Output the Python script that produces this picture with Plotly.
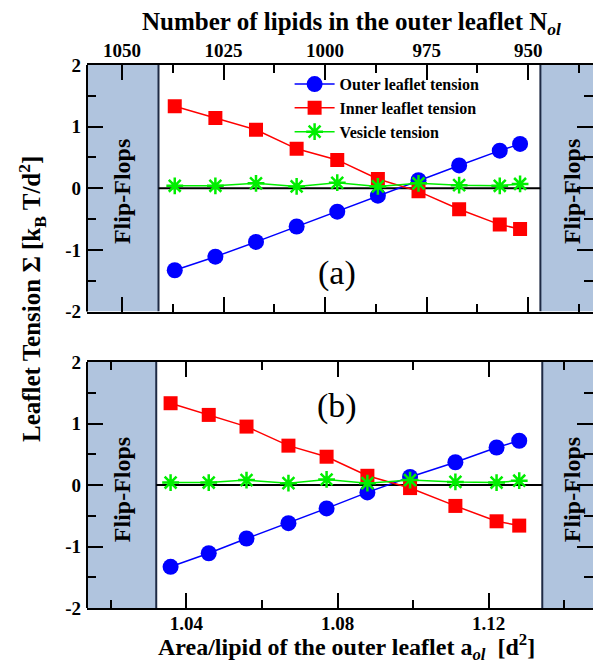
import plotly.graph_objects as go

# ---------------- data ----------------
N_ol = [1037, 1027, 1017, 1007, 997, 987, 977, 967, 957, 952]
area_ol = [1.0358, 1.0459, 1.0559, 1.0670, 1.0771, 1.0879, 1.0992, 1.1112, 1.1221, 1.1281]
outer_tension = [-1.33, -1.11, -0.87, -0.62, -0.38, -0.12, 0.13, 0.37, 0.61, 0.72]
inner_tension = [1.33, 1.14, 0.95, 0.64, 0.46, 0.15, -0.05, -0.34, -0.59, -0.66]
vesicle_tension = [0.04, 0.04, 0.08, 0.03, 0.09, 0.03, 0.08, 0.05, 0.04, 0.07]

flip_N = [1041.0, 947.0]        # flip-flop limits in N_ol
flip_a = [1.0320, 1.1342]       # flip-flop limits in a_ol
range_N = [1058.6, 934.05]
range_a = [1.01367, 1.14763]
y_ticks = [-2, -1, 0, 1, 2]
y_ticklabels = ["-2", "-1", "0", "1", "2"]

SERIF = "Liberation Serif"
SHADE = "#b0c4de"
EDGE = "#1e2a44"

series = [
    ("Outer leaflet tension", outer_tension, "#0000ff", dict(symbol="circle", size=16)),
    ("Inner leaflet tension", inner_tension, "#ff0000", dict(symbol="square", size=14)),
    ("Vesicle tension", vesicle_tension, "#00ee00",
     dict(symbol="asterisk-open", size=14, line=dict(width=2.5, color="#00ee00"))),
]

fig = go.Figure()
for name, vals, col, mk in series:
    m = dict(color=col, **mk)
    fig.add_trace(go.Scatter(x=N_ol, y=vals, mode="lines+markers", name=name,
                             line=dict(color=col, width=1.5), marker=m,
                             xaxis="x", yaxis="y", showlegend=True))
    fig.add_trace(go.Scatter(x=area_ol, y=vals, mode="lines+markers", name=name,
                             line=dict(color=col, width=1.5), marker=m,
                             xaxis="x2", yaxis="y2", showlegend=False))

tickfont = dict(family=SERIF, size=19, color="black", weight="bold")
yax = dict(range=[-2, 2], tickmode="array", tickvals=y_ticks, ticktext=y_ticklabels,
           ticks="inside", ticklen=16, tickwidth=1.5,
           tickcolor="black", mirror="ticks", showline=False, showgrid=False,
           zeroline=False, tickfont=tickfont, ticklabelstandoff=5,
           minor=dict(dtick=0.5, tick0=0, ticks="inside", ticklen=9, tickwidth=1.5,
                      tickcolor="black"))

fig.update_layout(
    width=585, height=656,
    margin=dict(l=79, r=0, t=57, b=56),
    plot_bgcolor="white", paper_bgcolor="white",
    showlegend=True,
    legend=dict(x=0.4004, y=0.996, xanchor="left", yanchor="top",
                bgcolor="rgba(0,0,0,0)", itemwidth=40, tracegroupgap=0,
                font=dict(family=SERIF, size=16, color="black", weight="bold")),
    xaxis=dict(domain=[0, 1], range=range_N, side="top", anchor="y",
               dtick=25, tick0=0, ticks="inside", ticklen=15, tickwidth=1.5,
               tickcolor="black", showline=True, linewidth=2, linecolor="black",
               mirror="ticks", showgrid=False, zeroline=False, tickfont=tickfont,
               ticklabelstandoff=-2,
               minor=dict(dtick=12.5, ticks="inside", ticklen=8, tickwidth=1.5, tickcolor="black")),
    xaxis2=dict(domain=[0, 1], range=range_a, side="bottom", anchor="y2",
                dtick=0.04, tick0=1.0, tickformat=".2f", ticks="inside", ticklen=15,
                tickwidth=1.5, tickcolor="black", showline=True, linewidth=2,
                linecolor="black", mirror="ticks", showgrid=False, zeroline=False,
                tickfont=tickfont, ticklabelstandoff=-3,
                minor=dict(dtick=0.02, ticks="inside", ticklen=8, tickwidth=1.5, tickcolor="black")),
    yaxis=dict(domain=[0.546, 1.0], anchor="x", **yax),
    yaxis2=dict(domain=[0.0, 0.453], anchor="x2", **yax),
)

shapes = []
for xr, yr, fl, rng in (("x", "y", flip_N, range_N), ("x2", "y2", flip_a, range_a)):
    shapes.append(dict(type="rect", xref=xr, yref=yr, x0=rng[0], x1=fl[0], y0=-2, y1=2,
                       fillcolor=SHADE, line=dict(width=0), layer="below"))
    shapes.append(dict(type="rect", xref=xr, yref=yr, x0=fl[1], x1=rng[1], y0=-2, y1=2,
                       fillcolor=SHADE, line=dict(width=0), layer="below"))
    for f in fl:
        shapes.append(dict(type="line", xref=xr, yref=yr, x0=f, x1=f, y0=-2, y1=2,
                           line=dict(color=EDGE, width=2), layer="below"))
    shapes.append(dict(type="line", xref=xr, yref=yr, x0=fl[0], x1=fl[1], y0=0, y1=0,
                       line=dict(color="black", width=2), layer="below"))
    # left frame line
    shapes.append(dict(type="line", xref=xr + " domain", yref=yr + " domain",
                       x0=0, x1=0, y0=0, y1=1, line=dict(color="black", width=2)))
fig.update_layout(shapes=shapes)

title_font = dict(family=SERIF, size=25, color="black", weight="bold")
ann_font = dict(family=SERIF, size=24, color="black", weight="bold")
common = dict(xref="paper", yref="paper", showarrow=False, xanchor="center", yanchor="middle")
annotations = [
    dict(text="Number of lipids in the outer leaflet N<sub><i>ol</i></sub>",
         x=0.5237, y=1.077, font=title_font, **common),
    dict(text="Area/lipid of the outer leaflet a<sub><i>ol</i></sub>  [d<sup>2</sup>]",
         x=0.5119, y=-0.0718, font=dict(family=SERIF, size=24, color="black", weight="bold"),
         **common),
    dict(text="Leaflet Tension Σ [k<sub>B</sub> T/d<sup>2</sup>]", textangle=-90,
         x=-0.1087, y=0.569, font=title_font, **common),
    dict(text="(a)", x=0.494, y=0.617, font=dict(family=SERIF, size=34, color="black"), **common),
    dict(text="(b)", x=0.494, y=0.372, font=dict(family=SERIF, size=34, color="black"), **common),
]
for yc in (0.766, 0.217):
    for xc in (0.0692, 0.9585):
        annotations.append(dict(text="Flip-Flops", textangle=-90, x=xc, y=yc,
                                font=ann_font, **common))
fig.update_layout(annotations=annotations)

fig.write_html("out.html")
